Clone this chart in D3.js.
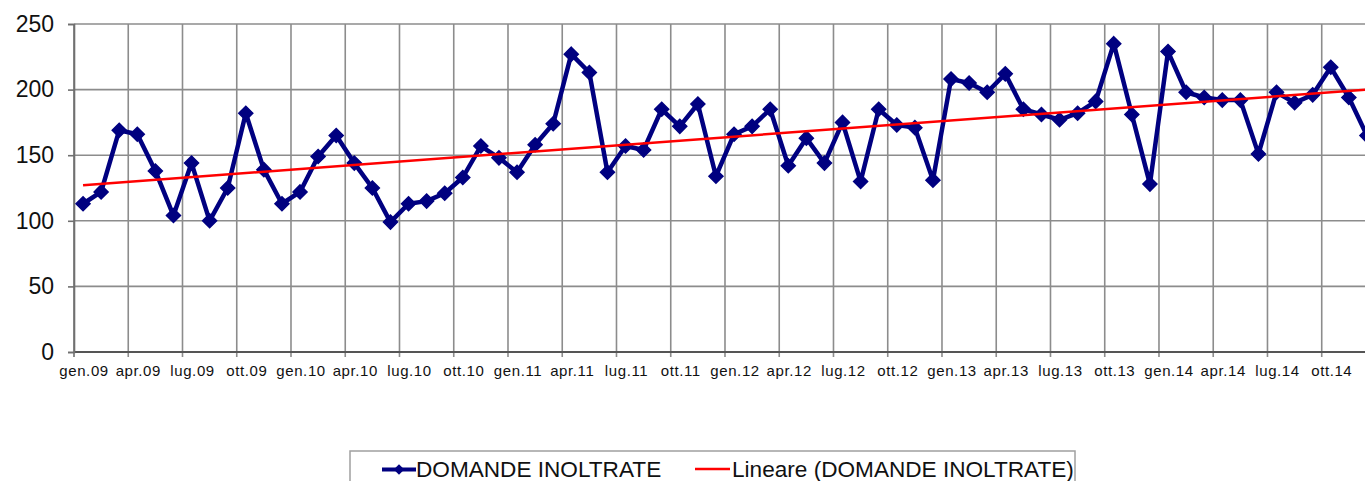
<!DOCTYPE html>
<html>
<head>
<meta charset="utf-8">
<script src="https://cdn.jsdelivr.net/npm/d3@7"></script>
<style>
  html, body { margin: 0; padding: 0; background: #fff; overflow: hidden; }
  svg { display: block; font-family: "Liberation Sans", Arial, sans-serif; }
</style>
</head>
<body>
<svg id="chart" width="1365" height="481"></svg>
<script>
// ---- data ----
const monthNames = ["gen", "feb", "mar", "apr", "mag", "giu", "lug", "ago", "set", "ott", "nov", "dic"];
const years = ["09", "10", "11", "12", "13", "14"];
const categories = years.flatMap(y => monthNames.map(m => m + "." + y));
const domandeInoltrate = [
  113, 122, 169, 166, 138, 104, 144, 100, 125, 182, 139, 113,
  122, 149, 165, 144, 125, 99, 113, 115, 121, 133, 157, 148,
  137, 158, 174, 227, 213, 137, 157, 154, 185, 172, 189, 134,
  166, 172, 185, 142, 163, 144, 175, 130, 185, 173, 171, 131,
  208, 205, 198, 212, 185, 181, 177, 182, 191, 235, 181, 128,
  229, 198, 194, 192, 192, 151, 198, 190, 196, 217, 194, 165
];
const yTicks = [0, 50, 100, 150, 200, 250];
const seriesName = "DOMANDE INOLTRATE";
const trendName = "Lineare (DOMANDE INOLTRATE)";

// ---- layout ----
const svg = d3.select("#chart");
const plotLeft = 74, plotTop = 24, plotBottom = 352;
const catW = 18.083;
const x = d3.scaleBand().domain(categories).range([plotLeft, plotLeft + categories.length * catW]).padding(0);
const y = d3.scaleLinear().domain([0, 250]).range([plotBottom, plotTop]);
const cx = c => x(c) + x.bandwidth() / 2;

const gridColor = "#8c8c8c";

// horizontal gridlines
svg.append("g").selectAll("line").data(yTicks).join("line")
  .attr("x1", plotLeft).attr("x2", 1400)
  .attr("y1", d => y(d)).attr("y2", d => y(d))
  .attr("stroke", gridColor).attr("stroke-width", 1.6);

// vertical gridlines every 3 months
const qCats = categories.filter((c, i) => i % 3 === 0);
svg.append("g").selectAll("line").data(qCats).join("line")
  .attr("x1", d => x(d)).attr("x2", d => x(d))
  .attr("y1", plotTop).attr("y2", plotBottom + 5)
  .attr("stroke", d => d === categories[0] ? "#707070" : gridColor).attr("stroke-width", 1.6);

// x axis line
svg.append("line").attr("x1", plotLeft).attr("x2", 1400)
  .attr("y1", plotBottom).attr("y2", plotBottom)
  .attr("stroke", "#555").attr("stroke-width", 2);

// y axis ticks & labels
const yAxis = d3.axisLeft(y).tickValues(yTicks).tickSize(6).tickPadding(14);
const gy = svg.append("g").attr("transform", `translate(${plotLeft},0)`).call(yAxis);
gy.select(".domain").attr("stroke", "#707070").attr("stroke-width", 1.6);
gy.selectAll(".tick line").attr("stroke", "#707070").attr("stroke-width", 1.6);
gy.selectAll(".tick text").attr("font-size", 23).attr("fill", "#111")
  .attr("font-family", "'Liberation Sans', Arial, sans-serif");

// x labels every 3 months, centered on category
svg.append("g").selectAll("text").data(qCats).join("text")
  .attr("x", d => cx(d) + 1).attr("y", 376)
  .attr("text-anchor", "middle")
  .attr("font-size", 15).attr("fill", "#111")
  .attr("letter-spacing", 0.6)
  .text(d => d);

// trend line (linear regression)
const n = domandeInoltrate.length;
const idx = d3.range(n);
const mx = d3.mean(idx), my = d3.mean(domandeInoltrate);
const slope = d3.sum(idx, i => (i - mx) * (domandeInoltrate[i] - my)) / d3.sum(idx, i => (i - mx) ** 2);
const intercept = my - slope * mx;

// series line
const line = d3.line().x((d, i) => cx(categories[i])).y(d => y(d));
svg.append("path").datum(domandeInoltrate)
  .attr("d", line)
  .attr("fill", "none").attr("stroke", "#000080").attr("stroke-width", 4.5)
  .attr("stroke-linejoin", "round");

// markers
const diamond = d3.symbol().type(d3.symbolDiamond2).size(125);
svg.append("g").selectAll("path").data(domandeInoltrate).join("path")
  .attr("transform", (d, i) => `translate(${cx(categories[i])},${y(d)})`)
  .attr("d", diamond)
  .attr("fill", "#000080").attr("stroke", "#000080").attr("stroke-width", 1.5);

svg.append("line")
  .attr("x1", cx(categories[0])).attr("y1", y(intercept))
  .attr("x2", cx(categories[n - 1])).attr("y2", y(intercept + slope * (n - 1)))
  .attr("stroke", "#ff0000").attr("stroke-width", 2.5);

// legend
const lg = svg.append("g");
lg.append("rect").attr("x", 350).attr("y", 451).attr("width", 725).attr("height", 60)
  .attr("fill", "#fff").attr("stroke", "#a0a0a0").attr("stroke-width", 1.5);
lg.append("line").attr("x1", 382).attr("x2", 416).attr("y1", 469.5).attr("y2", 469.5)
  .attr("stroke", "#000080").attr("stroke-width", 4);
lg.append("path").attr("transform", "translate(399,469.5)")
  .attr("d", d3.symbol().type(d3.symbolDiamond2).size(70))
  .attr("fill", "#000080");
lg.append("text").attr("x", 416).attr("y", 477).attr("font-size", 22.6).attr("fill", "#111")
  .text(seriesName);
lg.append("line").attr("x1", 695).attr("x2", 730).attr("y1", 469).attr("y2", 469)
  .attr("stroke", "#ff0000").attr("stroke-width", 2.5);
lg.append("text").attr("x", 732).attr("y", 477).attr("font-size", 22.6).attr("fill", "#111")
  .text(trendName);
</script>
</body>
</html>
